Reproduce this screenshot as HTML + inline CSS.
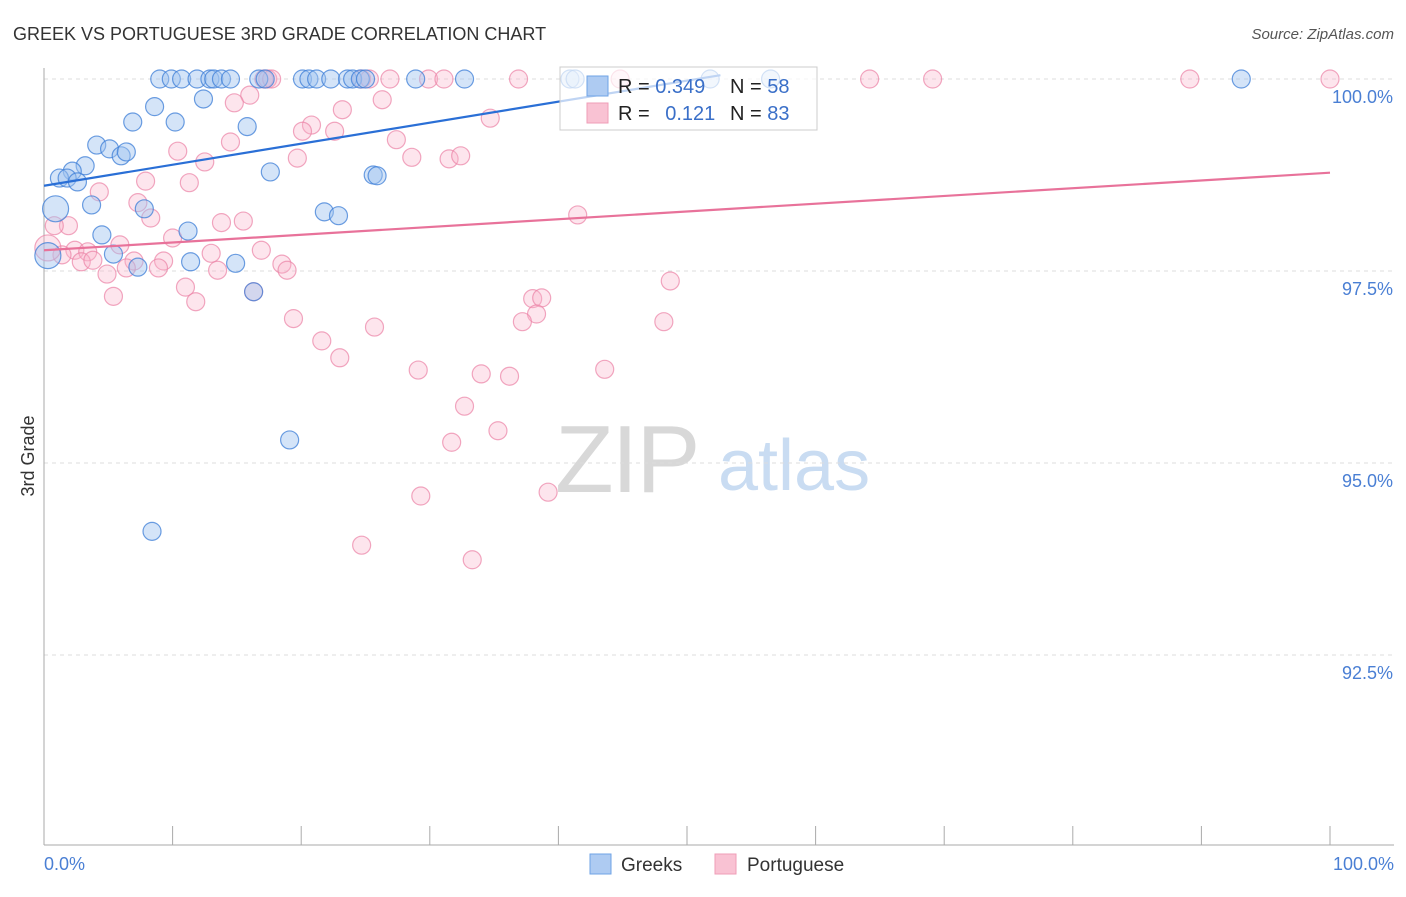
<!DOCTYPE html>
<html><head><meta charset="utf-8"><style>
body{margin:0;background:#fff;font-family:"Liberation Sans",sans-serif;}
svg text{font-family:"Liberation Sans",sans-serif;}
</style></head><body>
<svg id="chart" width="1406" height="892" xmlns="http://www.w3.org/2000/svg">
<text x="13" y="40" font-size="18" fill="#333">GREEK VS PORTUGUESE 3RD GRADE CORRELATION CHART</text>
<text x="1394" y="39" font-size="15" fill="#555" text-anchor="end" font-style="italic">Source: ZipAtlas.com</text>
<g>
<text x="555" y="492" font-size="96" fill="#d8d8d8" font-family="Liberation Serif" letter-spacing="-2">ZIP</text>
<text x="718" y="490" font-size="72" fill="#c9dcf2">atlas</text>
</g>
<g id="grid"></g>
<g id="axes"></g>
<g id="pts"></g>
<g id="lines"></g>
<g>
<rect x="560" y="67" width="257" height="63" fill="rgba(255,255,255,0.7)" stroke="#ccc"/>
<rect x="587" y="76" width="21" height="20" fill="#aecbf2" stroke="#6fa3e6"/>
<rect x="587" y="103" width="21" height="20" fill="#f9c2d3" stroke="#ef9db7"/>
<text x="618" y="93" font-size="20" fill="#222">R = <tspan fill="#3a6fc8">0.349</tspan></text>
<text x="730" y="93" font-size="20" fill="#222">N = <tspan fill="#3a6fc8">58</tspan></text>
<text x="618" y="120" font-size="20" fill="#222">R = <tspan fill="#3a6fc8" dx="10">0.121</tspan></text>
<text x="730" y="120" font-size="20" fill="#222">N = <tspan fill="#3a6fc8">83</tspan></text>
</g>
<g>
<rect x="590" y="854" width="21" height="20" fill="#aecbf2" stroke="#6fa3e6"/>
<text x="621" y="871" font-size="19" fill="#333">Greeks</text>
<rect x="715" y="854" width="21" height="20" fill="#f9c2d3" stroke="#ef9db7"/>
<text x="747" y="871" font-size="19" fill="#333">Portuguese</text>
</g>
<text transform="translate(34,456) rotate(-90)" font-size="18" fill="#333" text-anchor="middle">3rd Grade</text>
</svg>
<script>
const yTicks=[100,97.5,95,92.5];
const yTickLabels=["100.0%","97.5%","95.0%","92.5%"];
const greekX=[9.0,9.9,10.7,11.9,12.9,13.2,13.8,14.5,16.7,17.2,20.1,20.6,21.2,22.3,23.6,24.0,24.6,25.0,28.9,32.7,40.9,41.3,51.8,56.5,93.1,8.6,12.4,6.9,10.2,15.8,4.1,5.1,6.0,6.4,3.2,2.2,1.2,1.8,2.6,17.6,25.6,25.9,0.9,3.7,7.8,21.8,22.9,4.5,11.2,5.4,11.4,14.9,7.3,0.3,16.3,19.1,8.4];
const greekY=[100,100,100,100,100,100,100,100,100,100,100,100,100,100,100,100,100,100,100,100,100,100,100,100,100,99.64,99.74,99.44,99.44,99.38,99.14,99.09,99.0,99.05,98.87,98.8,98.71,98.71,98.66,98.79,98.75,98.74,98.31,98.36,98.31,98.27,98.22,97.97,98.02,97.72,97.62,97.6,97.55,97.7,97.23,95.3,94.11];
const portX=[17.1,17.4,17.7,24.7,25.3,26.9,29.9,31.1,36.9,44.8,64.2,69.1,89.1,100,16.0,14.8,26.3,23.2,20.8,20.1,22.6,14.5,10.4,12.5,19.7,27.4,28.6,31.5,32.4,34.7,7.9,11.3,4.3,7.3,8.3,13.8,15.5,41.5,1.9,0.8,10.0,5.9,2.4,3.4,1.4,16.9,13.0,2.9,3.8,7.0,9.3,6.4,8.9,13.5,18.5,18.9,4.9,11.0,5.4,11.8,16.3,48.7,38.0,38.7,38.3,37.2,48.2,19.4,25.7,21.6,23.0,29.1,34.0,36.2,43.6,32.7,35.3,31.7,29.3,39.2,24.7,33.3,0.3];
const portY=[100,100,100,100,100,100,100,100,100,100,100,100,100,100,99.79,99.69,99.73,99.6,99.4,99.32,99.32,99.18,99.06,98.92,98.97,99.21,98.98,98.96,99.0,99.49,98.67,98.65,98.53,98.39,98.19,98.13,98.15,98.23,98.09,98.09,97.93,97.84,97.77,97.75,97.71,97.77,97.73,97.62,97.64,97.63,97.63,97.54,97.54,97.51,97.59,97.51,97.46,97.29,97.17,97.1,97.23,97.37,97.14,97.15,96.94,96.84,96.84,96.88,96.77,96.59,96.37,96.21,96.16,96.13,96.22,95.74,95.42,95.27,94.57,94.62,93.93,93.74,97.8];
const greekBig=[42,53];
const portBig=[82];
const greekTrend=[[0,98.61],[52.6,100.05]];
const portTrend=[[0,97.77],[100,98.78]];
const NS="http://www.w3.org/2000/svg";
const X0=44,X1=1330,YTOP=79,PPU=76.8;
const sx=v=>X0+(v/100)*(X1-X0);
const sy=v=>YTOP+(100-v)*PPU;
function mk(tag,attrs,parent){const e=document.createElementNS(NS,tag);for(const k in attrs)e.setAttribute(k,attrs[k]);parent.appendChild(e);return e;}
const grid=document.getElementById('grid'),axes=document.getElementById('axes'),pts=document.getElementById('pts'),lines=document.getElementById('lines');
yTicks.forEach((t,i)=>{
 const l=mk('line',{x1:X0,x2:1394,y1:sy(t),y2:sy(t),stroke:'#ddd','stroke-dasharray':'4,4'},grid);
 
 
 const tx=mk('text',{x:1393,y:sy(t)+24,'font-size':18,fill:'#4a7fd4','text-anchor':'end'},axes);
 tx.textContent=yTickLabels[i];
 
 
});
const ya=mk('line',{x1:X0,x2:X0,y1:68,y2:845,stroke:'#aaa'},axes);


const xa=mk('line',{x1:X0,x2:1394,y1:845,y2:845,stroke:'#aaa'},axes);


for(let i=0;i<=10;i++){const t=mk('line',{x1:sx(i*10),x2:sx(i*10),y1:826,y2:845,stroke:'#aaa'},axes);
 
 }
const xl0=mk('text',{x:44,y:870,'font-size':18,fill:'#4a7fd4'},axes);xl0.textContent='0.0%';


const xl1=mk('text',{x:1394,y:870,'font-size':18,fill:'#4a7fd4','text-anchor':'end'},axes);xl1.textContent='100.0%';


function series(xs,ys,big,fill,stroke,name){
 xs.forEach((x,i)=>{const r=big.includes(i)?13:9;
  const c=mk('circle',{cx:sx(x),cy:sy(ys[i]),r:r,fill:fill,stroke:stroke,'stroke-width':1.2},pts);
  
  });
}
series(portX,portY,portBig,'rgba(248,180,202,0.35)','rgba(235,130,165,0.7)','portuguese-point');
series(greekX,greekY,greekBig,'rgba(160,195,240,0.45)','rgba(60,125,215,0.75)','greek-point');
function trend(p,col,name){const l=mk('line',{x1:sx(p[0][0]),y1:sy(p[0][1]),x2:sx(p[1][0]),y2:sy(p[1][1]),stroke:col,'stroke-width':2.2},lines);
 
 }
trend(greekTrend,'#2a6fd6','greek-trendline');
trend(portTrend,'#e8729a','portuguese-trendline');
</script>
</body></html>
